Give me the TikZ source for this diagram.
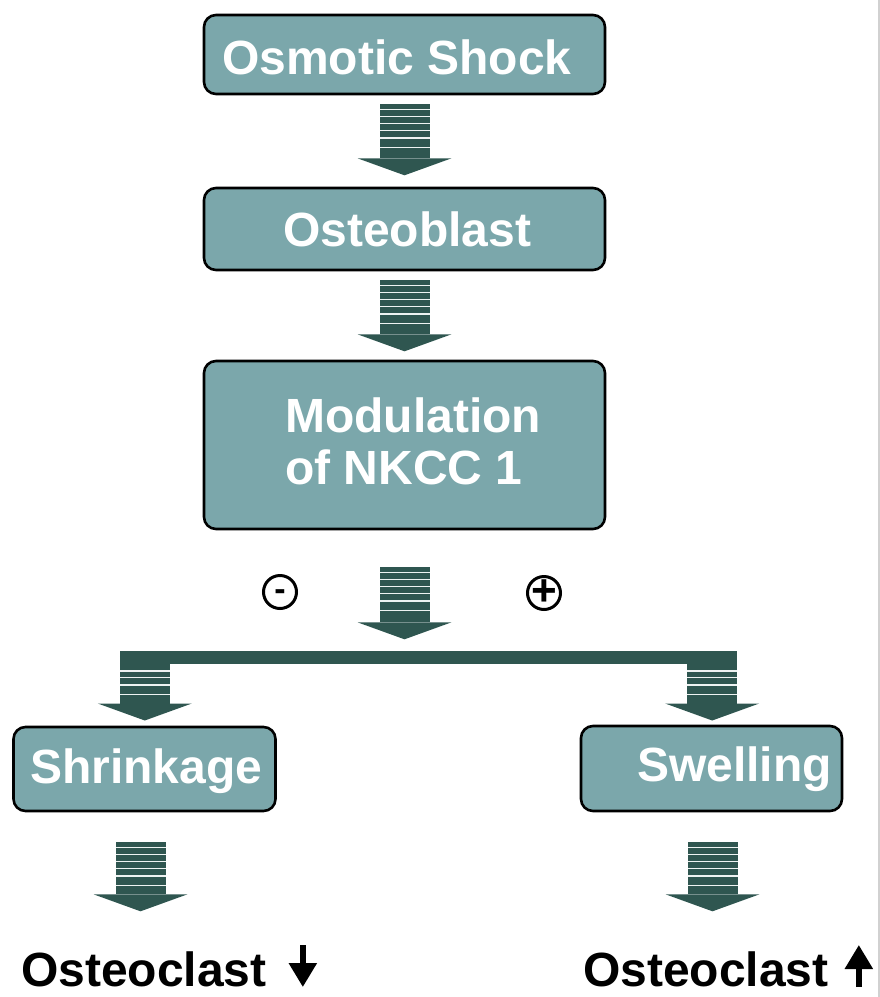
\documentclass[tikz,border=0pt]{standalone}
\usepackage{fontspec}
\setmainfont{Liberation Sans}
\usetikzlibrary{calc,arrows.meta}

\definecolor{boxfill}{HTML}{7BA7AB}
\definecolor{arrowdk}{HTML}{2F5650}
\definecolor{stripelt}{HTML}{EEF3F2}

\tikzset{
  stage/.style={draw=black, line width=2.6pt, rounded corners=12pt, fill=boxfill, inner sep=0pt},
  stagetext/.style={text=white, font=\bfseries\fontsize{48}{52}\selectfont, inner sep=0pt, anchor=base west},
  resulttext/.style={text=black, font=\bfseries\fontsize{48}{50}\selectfont, inner sep=0pt, anchor=base west},
  sign/.style={circle, draw=black, line width=3pt, minimum size=33pt, inner sep=0pt},
  signtext/.style={text=black, inner sep=0pt},
  resultarrow/.style={line width=5.5pt, -{Triangle[width=27pt,length=24pt]}},
  % striped block arrow pointing down; origin = top centre of the tail, #1 = body length
  pics/blockarrow/.style={code={
    \fill[arrowdk] (-25,0) rectangle (25,#1);
    \fill[arrowdk] (-47,#1) -- (47,#1) -- (0,#1+17) -- cycle;
    \foreach \s in {5.3,12,19.3,26,33.7,43}
      \draw[stripelt, line width=1.6pt] (-25,\s) -- (25,\s);
  }},
}

\begin{document}
\begin{tikzpicture}[x=1pt, y=-1pt]
  \fill[white] (0,0) rectangle (880,997);
  \useasboundingbox (0,0) rectangle (880,997);
  \draw[black!18, line width=1.5pt] (879,0) -- (879,997);

  % process boxes
  \node[stage, minimum width=401pt, minimum height=79pt] (shock) at (404.5,54.5) {};
  \node[stage, minimum width=401pt, minimum height=82pt] (blast) at (404.5,229) {};
  \node[stage, minimum width=401pt, minimum height=168pt] (nkcc) at (404.5,445) {};
  \node[stage, minimum width=262pt, minimum height=84pt] (shrink) at (144.5,769) {};
  \node[stage, minimum width=261pt, minimum height=85pt] (swell) at (711.5,768.5) {};

  % box labels
  \node[stagetext] (shocktxt) at (222,74) {Osmotic Shock};
  \node[stagetext] (blasttxt) at (283,246) {Osteoblast};
  \node[stagetext, anchor=west, align=left] (nkcctxt) at (285,441.5) {Modulation\\of NKCC 1};
  \node[stagetext] (shrinktxt) at (30,783) {Shrinkage};
  \node[stagetext] (swelltxt) at (637,781) {Swelling};

  % main chain
  \pic at ($(shock.south)+(0,9)$) {blockarrow=54};
  \pic at ($(blast.south)+(0,9)$) {blockarrow=54};
  \pic at ($(nkcc.south)+(0,37)$) {blockarrow=55};

  % branching bar and its two arrows
  \node[fill=arrowdk, minimum width=617pt, minimum height=13pt, inner sep=0pt] (bar) at (428.5,657.5) {};
  \pic at ($(bar.west)+(25,-6)$) {blockarrow=52};
  \pic at ($(bar.east)+(-25,-6)$) {blockarrow=52};
  \fill[arrowdk] (bar.north west) rectangle (bar.south east);

  % inhibition / activation signs
  \node[sign] (neg) at (280,592) {};
  \node[sign] (pos) at (544,593) {};
  \node[signtext, font=\bfseries\fontsize{34}{34}\selectfont, yshift=-3pt] (negtxt) at (neg.center) {-};
  \node[signtext, font=\bfseries\fontsize{44}{44}\selectfont] (postxt) at (pos.center) {+};

  % outcomes
  \pic at ($(shrink.south)+(-4,30)$) {blockarrow=52};
  \pic at ($(swell.south)+(1,30)$) {blockarrow=52};

  \node[resulttext] (oc1) at (21,986) {Osteoclast};
  \node[resulttext] (oc2) at (583,986) {Osteoclast};
  \draw[resultarrow] ($(oc1.base east)+(36,-41)$) -- ($(oc1.base east)+(36,1)$);
  \draw[resultarrow] ($(oc2.base east)+(30,1)$) -- ($(oc2.base east)+(30,-41)$);
\end{tikzpicture}
\end{document}
